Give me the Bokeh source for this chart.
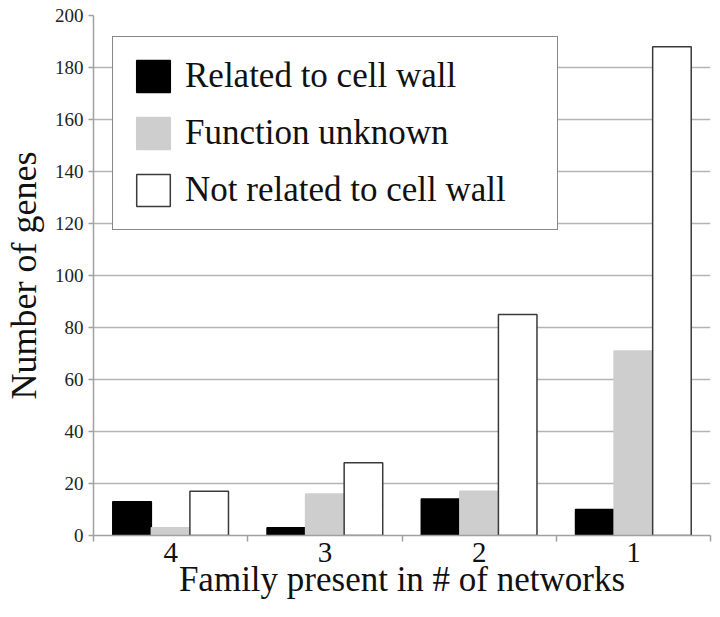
import numpy as np
from bokeh.plotting import figure
from bokeh.models import ColumnDataSource, FixedTicker, SingleIntervalTicker, Range1d, Legend, LegendItem
from bokeh.embed import file_html
from bokeh.resources import INLINE

# ---- data ----
categories = ["4", "3", "2", "1"]
related_to_cell_wall = [13, 3, 14, 10]
function_unknown = [3, 16, 17, 71]
not_related_to_cell_wall = [17, 28, 85, 188]
series_names = ["Related to cell wall", "Function unknown", "Not related to cell wall"]
y_title = "Number of genes"
x_title = "Family present in # of networks"

FONT = "Liberation Serif"
centers = np.arange(len(categories)) + 0.5

p = figure(width=712, height=601, output_backend="svg", toolbar_location=None,
           x_range=Range1d(0, len(categories)), y_range=Range1d(0, 200),
           min_border_top=15, min_border_right=2, min_border_left=0, min_border_bottom=0)
p.outline_line_color = None
p.background_fill_color = "white"
p.border_fill_color = "white"

bar_w = 0.25
fills = ["#000000", "#cecece", "#ffffff"]
lines = ["#000000", "#cecece", "#3a3a3a"]
offsets = [-0.25, 0.0, 0.25]
renderers = []
for vals, fc, lc, off in zip([related_to_cell_wall, function_unknown, not_related_to_cell_wall], fills, lines, offsets):
    src = ColumnDataSource(dict(x=centers + off, top=vals))
    r = p.vbar(x="x", top="top", bottom=0, width=bar_w, source=src,
               fill_color=fc, line_color=lc, line_width=1.5)
    renderers.append(r)

# axes
xa = p.xaxis[0]
xa.ticker = FixedTicker(ticks=list(centers), minor_ticks=list(range(len(categories) + 1)))
xa.major_label_overrides = {float(c): lab for c, lab in zip(centers, categories)}
xa.major_tick_out = 0
xa.major_tick_in = 0
xa.minor_tick_out = 6
xa.minor_tick_in = 0
xa.minor_tick_line_color = "#a0a0a0"
xa.minor_tick_line_width = 1.5
xa.axis_line_color = "#a0a0a0"
xa.axis_line_width = 1.5
xa.major_label_text_font = FONT
xa.major_label_text_font_size = "29px"
xa.major_label_text_color = "#111111"
xa.major_label_standoff = 1
xa.axis_label = x_title
xa.axis_label_text_font = FONT
xa.axis_label_text_font_size = "35px"
xa.axis_label_text_font_style = "normal"
xa.axis_label_text_color = "#111111"
xa.axis_label_standoff = -5

ya = p.yaxis[0]
ya.ticker = SingleIntervalTicker(interval=20)
ya.minor_tick_line_color = None
ya.major_tick_out = 5
ya.major_tick_in = 0
ya.major_tick_line_color = "#a0a0a0"
ya.major_tick_line_width = 1.5
ya.axis_line_color = "#a0a0a0"
ya.axis_line_width = 1.5
ya.major_label_text_font = FONT
ya.major_label_text_font_size = "19px"
ya.major_label_text_color = "#222222"
ya.major_label_standoff = 5
ya.axis_label = y_title
ya.axis_label_text_font = FONT
ya.axis_label_text_font_size = "36px"
ya.axis_label_text_font_style = "normal"
ya.axis_label_text_color = "#111111"
ya.axis_label_standoff = 8

p.xgrid.visible = False
p.ygrid.grid_line_color = "#b5b5b5"
p.ygrid.grid_line_width = 1.5

legend = Legend(items=[LegendItem(label=n, renderers=[r]) for n, r in zip(series_names, renderers)],
                location=(19, 305), margin=0, padding=19, spacing=17,
                glyph_width=42, glyph_height=40, label_standoff=11, label_width=353,
                label_height=40,
                label_text_font=FONT, label_text_font_size="35px", label_text_color="#111111",
                border_line_color="#111111", border_line_width=1.5,
                background_fill_color="white", background_fill_alpha=1.0)
p.add_layout(legend)

open("out.html", "w").write(file_html(p, INLINE))
